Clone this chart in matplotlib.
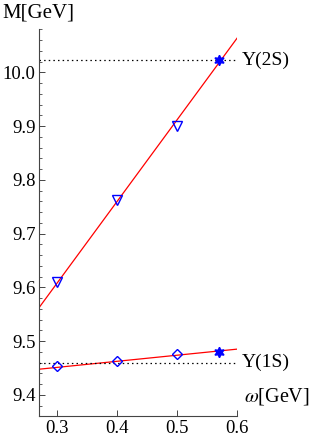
import numpy as np
import matplotlib
matplotlib.use("Agg")
from matplotlib import pyplot as plt
from matplotlib.ticker import MultipleLocator, FormatStrFormatter

# values
omega = [0.3, 0.4, 0.5]
m_2s = [9.61, 9.762, 9.90]
m_1s = [9.454, 9.462, 9.475]

omega_star = [0.571]
m_2s_star = [10.022]
m_1s_star = [9.479]

# red fit lines, read at both ends
fit_x = [0.27, 0.601]
fit_2s = [9.562, 10.064]
fit_1s = [9.4476, 9.485]

exp_2s = 10.023
exp_1s = 9.460
labels = ["\u03a5(2S)", "\u03a5(1S)"]

plt.rcParams["font.family"] = ["Liberation Serif", "DejaVu Serif"]
plt.rcParams["mathtext.fontset"] = "stix"


def main():
  fig = plt.figure(figsize=(3.16, 4.41), dpi=100)
  ax = fig.add_axes([0.1234, 0.056, 0.749 - 0.1234, 0.8776])

  ax.plot(fit_x, fit_2s, color="red", lw=0.9, zorder=2)
  ax.plot(fit_x, fit_1s, color="red", lw=0.9, zorder=2)

  ax.plot([0.27, 0.6], [exp_2s, exp_2s], color="black", ls=(0, (1.2, 2.5)), lw=0.9, clip_on=False)
  ax.plot([0.27, 0.6], [exp_1s, exp_1s], color="black", ls=(0, (1.2, 2.5)), lw=0.9, clip_on=False)

  ax.plot(omega, m_2s, ls="none", marker="v", ms=7.5, mfc="none", mec="blue", mew=1.0, zorder=3)
  ax.plot(omega, m_1s, ls="none", marker="D", ms=5.5, mfc="none", mec="blue", mew=1.0, zorder=3)
  ax.plot(omega_star, m_2s_star, ls="none", marker=(6, 1, 0), ms=7.5, color="blue", zorder=4)
  ax.plot(omega_star, m_1s_star, ls="none", marker=(6, 1, 0), ms=7.5, color="blue", zorder=4)

  ax.text(0.609, exp_2s, labels[0], fontsize=14, va="center", ha="left")
  ax.text(0.609, exp_1s, labels[1], fontsize=14, va="center", ha="left")

  ax.set_xlim(0.27, 0.6)
  ax.set_ylim(9.36, 10.08)
  ax.xaxis.set_major_locator(MultipleLocator(0.1))
  ax.yaxis.set_major_locator(MultipleLocator(0.1))
  ax.yaxis.set_minor_locator(MultipleLocator(0.02))
  ax.xaxis.set_major_formatter(FormatStrFormatter("%.1f"))
  ax.yaxis.set_major_formatter(FormatStrFormatter("%.1f"))

  for s in ["top", "right"]:
    ax.spines[s].set_visible(False)
  for s in ["left", "bottom"]:
    ax.spines[s].set_color("#444444")
    ax.spines[s].set_linewidth(0.8)
  ax.tick_params(which="both", direction="in", color="#444444", labelsize=13.5)
  ax.tick_params(which="major", length=4, width=0.7, pad=2.5)
  ax.tick_params(which="minor", length=2.5, width=0.6)

  fig.text(0.008, 0.993, "M[GeV]", fontsize=15, ha="left", va="top")
  fig.text(0.772, 0.078, r"$\omega$[GeV]", fontsize=14.5, ha="left", va="bottom")

  fig.savefig("out.png", dpi=100)


main()
